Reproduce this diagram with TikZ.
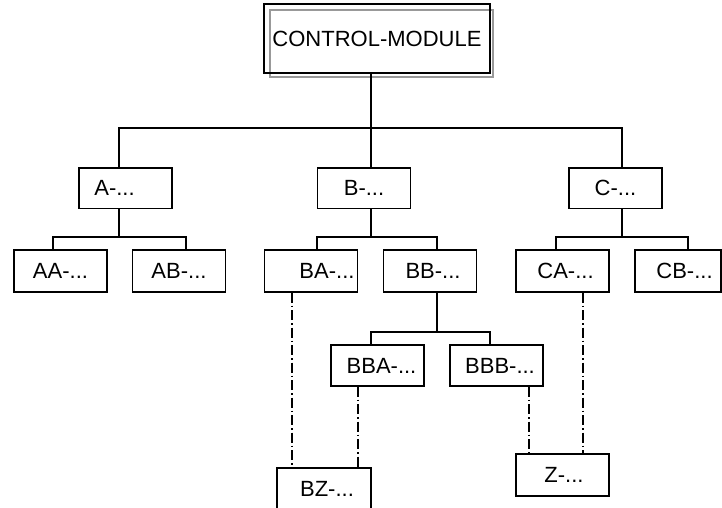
\documentclass[tikz,border=0pt]{standalone}
\usepackage{fontspec}
\setmainfont{Liberation Sans}
\usetikzlibrary{positioning}
\tikzset{
  modbox/.style={draw=black, line width=1.1pt, minimum width=93pt,
    minimum height=41pt, inner sep=0pt, font=\fontsize{22}{26}\selectfont},
  ctrlbox/.style={modbox, minimum width=226pt, minimum height=69pt},
  ctrlshadow/.style={draw=black!40, line width=1.1pt},
  treeline/.style={draw=black, line width=1.1pt},
  refline/.style={draw=black, line width=1.1pt,
    dash pattern=on 10pt off 3pt on 1.5pt off 3pt}
}

\begin{document}
\begin{tikzpicture}[x=1pt, y=-1pt]
  \useasboundingbox (0,0) rectangle (722,507);

  % top module with its grey frame
  \draw[ctrlshadow] (270,10) rectangle (493,77);
  \node[ctrlbox] (ctrl) at (377,38.5) {CONTROL-MODULE};

  % first level
  \node[modbox, minimum height=40.5pt] (a) at (125.5,188.25) {A-...\rule{22pt}{0pt}};
  \node[modbox, minimum height=40.5pt] (b) at (364,188.25) {B-...};
  \node[modbox, minimum height=40.5pt] (c) at (615.5,188.25) {C-...};

  % second level
  \node[modbox, minimum height=42pt] (aa) at (60.5,271) {AA-...};
  \node[modbox, minimum height=42pt] (ab) at (179,271) {AB-...};
  \node[modbox, minimum height=42pt] (ba) at (311,271) {\hspace{32pt}BA-...};
  \node[modbox, minimum height=42pt] (bb) at (430,271) {\hspace{6pt}BB-...};
  \node[modbox, minimum height=42pt] (ca) at (562.5,271) {\hspace{6pt}CA-...};
  \node[modbox, minimum height=42pt, minimum width=86pt] (cb) at (678,271) {\hspace{13pt}CB-...};

  % third level
  \node[modbox] (bba) at (377.5,365.5) {\hspace{8pt}BBA-...};
  \node[modbox] (bbb) at (496.5,365.5) {\hspace{7pt}BBB-...};

  % shared modules
  \node[modbox, minimum height=42pt] (z) at (562.5,475) {\hspace{3pt}Z-...};
  \node[modbox, minimum height=42pt, minimum width=94pt] (bz) at (324,489) {\hspace{6pt}BZ-...};

  % junction points of the tree
  \coordinate (j0) at (371,128);
  \coordinate (dA) at (119,128);
  \coordinate (dC) at (622,128);
  \coordinate (jA) at (119,237);
  \coordinate (dAA) at (53,237);
  \coordinate (dAB) at (186,237);
  \coordinate (jB) at (371,237);
  \coordinate (dBA) at (317,237);
  \coordinate (dBB) at (437,237);
  \coordinate (jC) at (622,237);
  \coordinate (dCA) at (556,237);
  \coordinate (dCB) at (688,237);
  \coordinate (jBB) at (437,332);
  \coordinate (dBBA) at (371,332);
  \coordinate (dBBB) at (490,332);

  \draw[treeline] (ctrl.south -| j0) -- (j0);
  \draw[treeline] (dA |- a.north) -- (dA) -- (dC) -- (dC |- c.north);
  \draw[treeline] (j0) -- (j0 |- b.north);

  \draw[treeline] (jA |- a.south) -- (jA);
  \draw[treeline] (dAA |- aa.north) -- (dAA) -- (dAB) -- (dAB |- ab.north);

  \draw[treeline] (jB |- b.south) -- (jB);
  \draw[treeline] (dBA |- ba.north) -- (dBA) -- (dBB) -- (dBB |- bb.north);

  \draw[treeline] (jC |- c.south) -- (jC);
  \draw[treeline] (dCA |- ca.north) -- (dCA) -- (dCB) -- (dCB |- cb.north);

  \draw[treeline] (jBB |- bb.south) -- (jBB);
  \draw[treeline] (dBBA |- bba.north) -- (dBBA) -- (dBBB) -- (dBBB |- bbb.north);

  % references to shared modules
  \coordinate (rBA) at (292,0);
  \coordinate (rBBA) at (358,0);
  \coordinate (rBBB) at (529,0);
  \coordinate (rCA) at (583,0);
  \draw[refline] (rBA |- ba.south) -- (rBA |- bz.north);
  \draw[refline] (rBBA |- bba.south) -- (rBBA |- bz.north);
  \draw[refline] (rBBB |- bbb.south) -- (rBBB |- z.north);
  \draw[refline] (rCA |- ca.south) -- (rCA |- z.north);
\end{tikzpicture}
\end{document}
